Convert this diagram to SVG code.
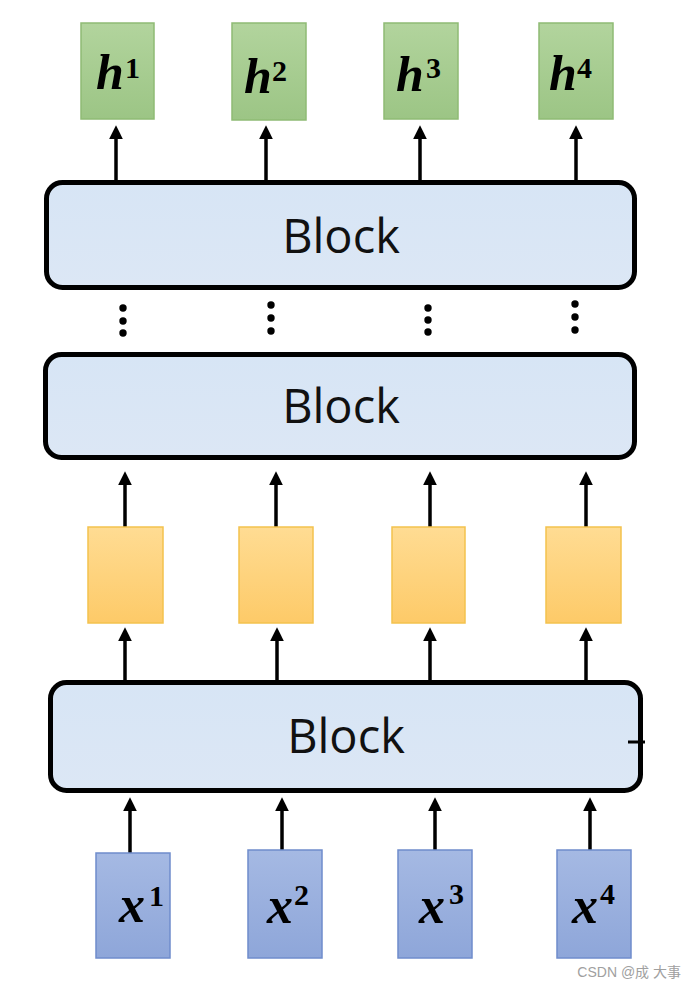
<svg xmlns="http://www.w3.org/2000/svg" width="696" height="988" viewBox="0 0 696 988">
<style>
.blk{fill:url(#gBlue);stroke:#000;stroke-width:5}
.btxt{font-family:"Open Sans","Liberation Sans",sans-serif;font-size:47px;fill:#111;text-anchor:middle}
.out{fill:url(#gGreen);stroke:#8fbb74;stroke-width:1.5}
.mid{fill:url(#gOrange);stroke:#f3c24e;stroke-width:1.5}
.inp{fill:url(#gIn);stroke:#6f8ccc;stroke-width:1.5}
.mv{font-family:"Liberation Serif","DejaVu Serif",serif;font-weight:bold;font-style:italic;fill:#000}
.sup{font-family:"Liberation Serif","DejaVu Serif",serif;font-weight:bold;font-style:normal;font-size:30px;fill:#000}
.arr{stroke:#000;stroke-width:3.5;fill:none;marker-end:url(#ah)}
.dot{fill:#000}
</style>
<defs>
<linearGradient id="gBlue" x1="0" y1="0" x2="0" y2="1"><stop offset="0" stop-color="#d7e5f5"/><stop offset="1" stop-color="#dce7f5"/></linearGradient>
<linearGradient id="gGreen" x1="0" y1="0" x2="0" y2="1"><stop offset="0" stop-color="#b2d49d"/><stop offset="1" stop-color="#9cc585"/></linearGradient>
<linearGradient id="gOrange" x1="0" y1="0" x2="0" y2="1"><stop offset="0" stop-color="#ffdc93"/><stop offset="1" stop-color="#fdca68"/></linearGradient>
<linearGradient id="gIn" x1="0" y1="0" x2="0" y2="1"><stop offset="0" stop-color="#a5b9e3"/><stop offset="1" stop-color="#8ea6d9"/></linearGradient>
<marker id="ah" markerUnits="userSpaceOnUse" markerWidth="14" markerHeight="14" viewBox="0 0 12 12" refX="8" refY="6" orient="auto"><path d="M0,0 L12,6 L0,12 z" fill="#000"/></marker>
</defs>

<g id="connectors">
<line class="arr" x1="116" y1="182" x2="116" y2="130"/>
<line class="arr" x1="266" y1="182" x2="266" y2="130"/>
<line class="arr" x1="420" y1="182" x2="420" y2="130"/>
<line class="arr" x1="576" y1="182" x2="576" y2="130"/>
<line class="arr" x1="125" y1="527" x2="125" y2="476"/>
<line class="arr" x1="276" y1="527" x2="276" y2="476"/>
<line class="arr" x1="430" y1="527" x2="430" y2="476"/>
<line class="arr" x1="586" y1="527" x2="586" y2="476"/>
<line class="arr" x1="125" y1="681" x2="125" y2="632"/>
<line class="arr" x1="277" y1="681" x2="277" y2="632"/>
<line class="arr" x1="430" y1="681" x2="430" y2="632"/>
<line class="arr" x1="586" y1="681" x2="586" y2="632"/>
<line class="arr" x1="130" y1="853" x2="130" y2="802"/>
<line class="arr" x1="282" y1="850" x2="282" y2="802"/>
<line class="arr" x1="435" y1="850" x2="435" y2="802"/>
<line class="arr" x1="590" y1="850" x2="590" y2="802"/>
</g>

<g id="h1"><rect class="out" x="81" y="23" width="73" height="96"/><text class="mv" x="96" y="89" font-size="50">h</text><text class="sup" x="125" y="78">1</text></g>
<g id="h2"><rect class="out" x="232" y="23" width="74" height="97"/><text class="mv" x="244" y="93" font-size="50">h</text><text class="sup" x="272" y="81">2</text></g>
<g id="h3"><rect class="out" x="384" y="23" width="74" height="96"/><text class="mv" x="396" y="91" font-size="50">h</text><text class="sup" x="426" y="78">3</text></g>
<g id="h4"><rect class="out" x="539" y="23" width="74" height="96"/><text class="mv" x="549" y="90" font-size="50">h</text><text class="sup" x="577" y="78">4</text></g>

<g id="block-top"><rect class="blk" x="46.5" y="182.5" width="588" height="105" rx="16"/><text class="btxt" x="341" y="253">Block</text></g>

<g id="ellipsis">
<circle class="dot" cx="123" cy="308" r="3.7"/><circle class="dot" cx="123" cy="321" r="3.7"/><circle class="dot" cx="123" cy="333" r="3.7"/>
<circle class="dot" cx="271" cy="305" r="3.7"/><circle class="dot" cx="271" cy="318" r="3.7"/><circle class="dot" cx="271" cy="331" r="3.7"/>
<circle class="dot" cx="428" cy="308" r="3.7"/><circle class="dot" cx="428" cy="320" r="3.7"/><circle class="dot" cx="428" cy="332" r="3.7"/>
<circle class="dot" cx="575" cy="304" r="3.7"/><circle class="dot" cx="575" cy="317" r="3.7"/><circle class="dot" cx="575" cy="330" r="3.7"/>
</g>

<g id="block-mid"><rect class="blk" x="45.5" y="354.5" width="589" height="103" rx="16"/><text class="btxt" x="341" y="423">Block</text></g>

<g id="o1"><rect class="mid" x="88" y="527" width="75" height="96"/></g>
<g id="o2"><rect class="mid" x="239" y="527" width="74" height="96"/></g>
<g id="o3"><rect class="mid" x="392" y="527" width="73" height="96"/></g>
<g id="o4"><rect class="mid" x="546" y="527" width="75" height="96"/></g>

<g id="block-bottom"><rect class="blk" x="50.5" y="682.5" width="590" height="108" rx="16"/><text class="btxt" x="346" y="753">Block</text><line x1="628" y1="742" x2="645" y2="742" stroke="#000" stroke-width="3"/></g>

<g id="x1"><rect class="inp" x="96" y="853" width="74" height="105"/><text class="mv" x="119" y="922" font-size="52">x</text><text class="sup" x="149" y="906">1</text></g>
<g id="x2"><rect class="inp" x="248" y="850" width="74" height="108"/><text class="mv" x="267" y="923" font-size="52">x</text><text class="sup" x="294" y="905">2</text></g>
<g id="x3"><rect class="inp" x="398" y="850" width="74" height="108"/><text class="mv" x="419" y="923" font-size="52">x</text><text class="sup" x="449" y="904">3</text></g>
<g id="x4"><rect class="inp" x="557" y="850" width="74" height="108"/><text class="mv" x="572" y="923" font-size="52">x</text><text class="sup" x="600" y="904">4</text></g>

<text x="681" y="977" text-anchor="end" font-family="'Liberation Sans','Noto Sans CJK SC',sans-serif" font-size="14" fill="#a0a0a0">CSDN @成 大事</text>
</svg>
